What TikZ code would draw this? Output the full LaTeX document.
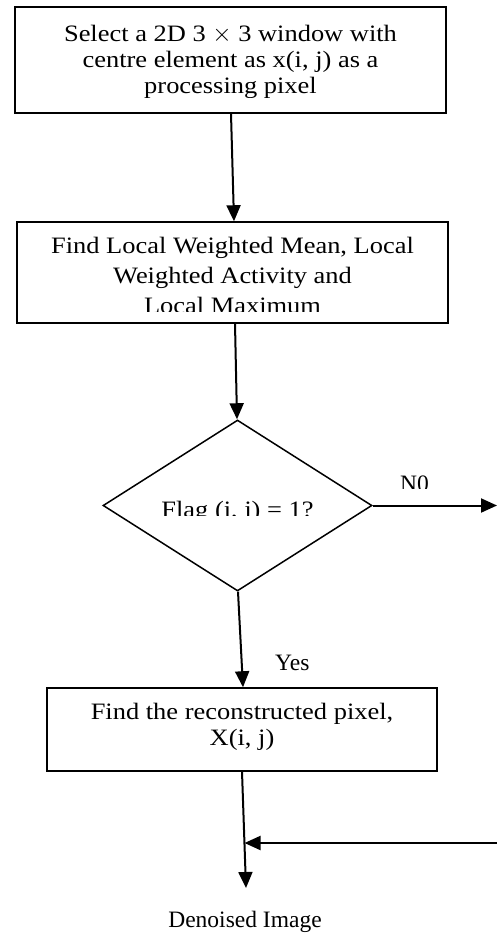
\documentclass[tikz,border=0pt]{standalone}
\usepackage{fontspec}
\setmainfont{Liberation Serif}
\newfontfamily\boxfont{Liberation Serif}[FakeStretch=1.125]
\usetikzlibrary{shapes.geometric,arrows.meta}
\tikzset{
  boxnode/.style={draw, line width=1.5pt, rectangle, inner sep=0pt},
  dianode/.style={draw, line width=1.5pt, diamond, inner sep=0pt, minimum width=269pt, minimum height=171pt},
  txt/.style={inner sep=0pt, align=center, font=\boxfont\fontsize{23.5}{26}\selectfont},
  lbl/.style={inner sep=0pt, font=\fontsize{23.5}{25}\selectfont},
  arr/.style={line width=2pt, -{Triangle[length=16pt,width=14pt]}}
}
\begin{document}
\begin{tikzpicture}[x=1pt,y=-1pt]
\useasboundingbox (0,0) rectangle (497,933);
% boxes
\node[boxnode, minimum width=431pt, minimum height=106pt] (b1) at (230.5,60) {};
\node[boxnode, minimum width=431pt, minimum height=101pt] (b2) at (232.5,272.5) {};
\node[dianode] (d) at (237.5,505.5) {};
\node[boxnode, minimum width=390pt, minimum height=83pt] (b3) at (242,729.5) {};
% clipped texts
\begin{scope}
\clip (15,7) rectangle (446,98);
\node[txt, anchor=base] (t1) at (230.5,94) {Select a 2D 3 $\times$ 3 window with\\centre element as x(i, j) as a\\processing pixel};
\end{scope}
\begin{scope}
\clip (17,222) rectangle (448,311.5);
\node[txt, anchor=base, font=\boxfont\fontsize{23.5}{30}\selectfont] (t2) at (232.5,313) {Find Local Weighted Mean, Local\\Weighted Activity and\\Local Maximum};
\end{scope}
\begin{scope}
\clip (103,420) rectangle (372,515);
\node[txt, anchor=base] (t3) at (237.5,517) {Flag (i, j) = 1?};
\end{scope}
\node[txt, anchor=base] (t4) at (242,745) {Find the reconstructed pixel,\\X(i, j)};
\begin{scope}
\clip (390,460) rectangle (450,488);
\node[lbl, anchor=base west] (no) at (400,491) {N0};
\end{scope}
\node[lbl, anchor=base west] (yes) at (275,670) {Yes};
\coordinate (outp) at (246,888);
\node[lbl, anchor=base] (den) at (245,927) {Denoised Image};
\coordinate (r1) at (497,505.5);
\coordinate (r2) at (497,843);
\coordinate (m) at (244.5,843);
% connectors
\draw[arr] ([xshift=0.5pt]b1.south) -- ([xshift=1.5pt]b2.north);
\draw[arr] ([xshift=2.5pt]b2.south) -- ([xshift=-0.5pt]d.north);
\draw[arr] ([xshift=0.5pt]d.south) -- ([xshift=1pt]b3.north);
\draw[arr] (d.east) -- (r1);
\draw[arr] (b3.south) -- (outp);
\draw[arr] (r2) -- (m);
\end{tikzpicture}
\end{document}
